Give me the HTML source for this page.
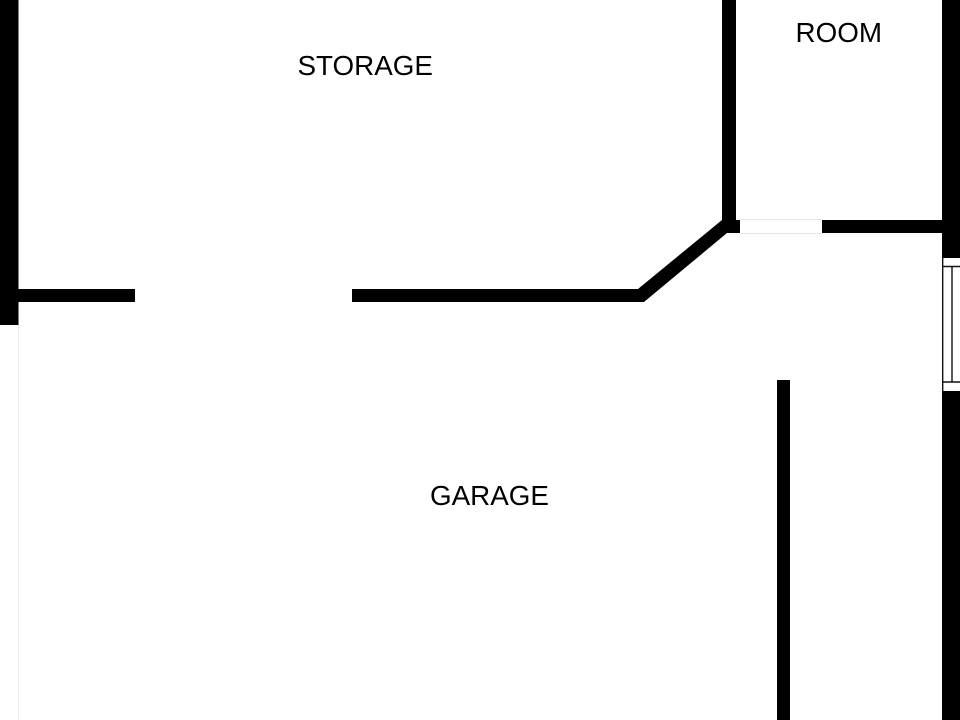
<!DOCTYPE html>
<html>
<head>
<meta charset="utf-8">
<style>
html,body{margin:0;padding:0;background:#fff;width:960px;height:720px;overflow:hidden}
svg{display:block}
text{font-family:"Liberation Sans",sans-serif;font-size:27.8px;fill:#000}
</style>
</head>
<body>
<svg width="960" height="720" viewBox="0 0 960 720" xmlns="http://www.w3.org/2000/svg">
<rect width="960" height="720" fill="#fff"/>
<line x1="18.5" y1="325" x2="18.5" y2="720" stroke="#eee" stroke-width="1"/>
<line x1="740" y1="219.5" x2="822" y2="219.5" stroke="#e4e4e4" stroke-width="1"/>
<line x1="740" y1="233.5" x2="822" y2="233.5" stroke="#e4e4e4" stroke-width="1"/>
<g fill="#000">
<rect x="0" y="0" width="18.5" height="325"/>
<rect x="18" y="289" width="117" height="13"/>
<polygon points="352,289 638,289 722,220 722,0 736,0 736,220 740,220 740,233 727,233 644,302 352,302"/>
<rect x="822" y="220" width="121" height="13"/>
<rect x="942" y="0" width="18" height="258"/>
<rect x="942" y="391" width="18" height="329"/>
<rect x="777" y="380" width="13" height="340"/>
</g>
<g fill="none" stroke="#111" stroke-width="1.4">
<line x1="942.7" y1="258" x2="942.7" y2="391"/>
<line x1="952" y1="267" x2="952" y2="382"/>
<line x1="943" y1="266.5" x2="960" y2="266.5"/>
<line x1="943" y1="382" x2="960" y2="382"/>
</g>
<text x="297.5" y="75">STORAGE</text>
<text x="795.5" y="42">ROOM</text>
<text x="430" y="505">GARAGE</text>
</svg>
</body>
</html>
